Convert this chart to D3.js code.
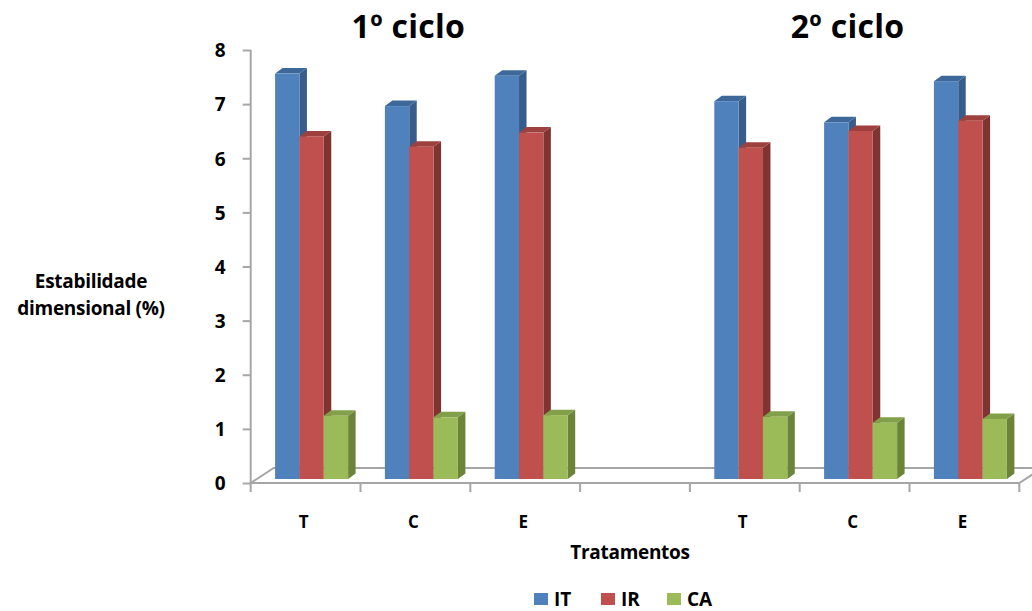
<!DOCTYPE html>
<html>
<head>
<meta charset="utf-8">
<script src="https://cdn.jsdelivr.net/npm/d3@7"></script>
<style>
  html, body { margin: 0; padding: 0; background: #fff; }
  svg { display: block; font-family: "Open Sans", "Liberation Sans", sans-serif; font-weight: 700; }
</style>
</head>
<body>
<svg id="chart" width="1032" height="611"></svg>
<script>
// Treatments inside each cycle, the two cycles, and the three measured series
const categories = ["T", "C", "E"];
const cycles = ["1º ciclo", "2º ciclo"];
const seriesNames = ["IT", "IR", "CA"];

// Values per treatment: 1º ciclo T, C, E then 2º ciclo T, C, E
const valuesIT = [7.49, 6.89, 7.45, 6.98, 6.59, 7.35];
const valuesIR = [6.33, 6.14, 6.40, 6.12, 6.43, 6.62];
const valuesCA = [1.17, 1.14, 1.18, 1.15, 1.04, 1.11];

const yTicks = [0, 1, 2, 3, 4, 5, 6, 7, 8];
const axisTitleLines = ["Estabilidade", "dimensional (%)"];
const xAxisTitle = "Tratamentos";

const seriesValues = [valuesIT, valuesIR, valuesCA];
const faceColors = {
  IT: { front: "#4f81bd", side: "#385d8a", top: "#3e6899" },
  IR: { front: "#c0504d", side: "#7f3432", top: "#9e403d" },
  CA: { front: "#9bbb59", side: "#6b8439", top: "#82a04a" }
};

const svg = d3.select("#chart");
const gridGray = "#a6a6a6";
const font = "'Open Sans', sans-serif";

// Front plane of the plot (value axis and category ticks)
const x0 = 250.7, x1 = 1019.3;
const slotCount = categories.length * cycles.length + 1; // one empty slot between cycles
const xFront = d3.scaleBand().domain(d3.range(slotCount)).range([x0, x1]).padding(0);
const yFront = d3.scaleLinear().domain([0, 8]).range([483, 50]);

// Depth of the floor and of the plane where the columns stand
const floorDx = 23, floorDy = -15;
const barPlaneDx = 6, barPlaneDy = -4;
const barDx = 7.5, barDy = -5.5;

const inner = d3.scaleBand().domain(seriesNames).range([0, xFront.bandwidth()])
  .paddingInner(0).paddingOuter(0.756);

const slotOf = (cycleIdx, catIdx) => cycleIdx * (categories.length + 1) + catIdx;

// Floor outline
const yBase = yFront(0);
const floor = svg.append("g").attr("stroke", gridGray).attr("stroke-width", 2).attr("fill", "none");
floor.append("path").attr("d", d3.line()([
  [x0, yBase], [x0 + floorDx, yBase + floorDy], [1040, yBase + floorDy]
]));
floor.append("path").attr("d", d3.line()([
  [x0, yBase], [x1, yBase], [x1 + floorDx, yBase + floorDy]
]));

// Category tick marks at slot boundaries along the front edge
const boundaries = d3.range(1, slotCount + 1).map(i => i < slotCount ? xFront(i) : x1);
floor.selectAll("line.ctick").data(boundaries).join("line")
  .attr("class", "ctick")
  .attr("x1", d => d).attr("x2", d => d)
  .attr("y1", yBase).attr("y2", yBase + 9);

// Value axis
const yAxis = d3.axisLeft(yFront).tickValues(yTicks).tickSize(8).tickPadding(17).tickSizeOuter(0);
const yAxisG = svg.append("g").attr("transform", `translate(${x0},0)`).call(yAxis);
yAxisG.select(".domain").remove();
yAxisG.selectAll(".tick line").attr("stroke", gridGray).attr("stroke-width", 2);
yAxisG.selectAll(".tick text")
  .attr("fill", "#000").attr("font-size", 19).attr("font-weight", 700)
  .attr("font-family", font).attr("dy", "0.36em");
svg.append("line").attr("x1", x0).attr("x2", x0)
  .attr("y1", yFront(8)).attr("y2", yBase + 9)
  .attr("stroke", gridGray).attr("stroke-width", 2);

// Columns, built from the values
const bars = [];
cycles.forEach((c, ci) => {
  categories.forEach((cat, ki) => {
    seriesNames.forEach((s, si) => {
      bars.push({
        series: s,
        value: seriesValues[si][ci * categories.length + ki],
        slot: slotOf(ci, ki)
      });
    });
  });
});
bars.sort((a, b) => (xFront(a.slot) + inner(a.series)) - (xFront(b.slot) + inner(b.series)));

const barG = svg.append("g");
bars.forEach(d => {
  const left = xFront(d.slot) + barPlaneDx + inner(d.series);
  const right = left + inner.bandwidth();
  const bottom = yFront(0) + barPlaneDy;
  const top = yFront(d.value) + barPlaneDy;
  const col = faceColors[d.series];
  const g = barG.append("g");
  // right side face
  g.append("path").attr("fill", col.side).attr("d", d3.line()([
    [right, bottom], [right + barDx, bottom + barDy], [right + barDx, top + barDy], [right, top]
  ]) + "Z");
  // top face
  g.append("path").attr("fill", col.top).attr("d", d3.line()([
    [left, top], [left + barDx, top + barDy], [right + barDx, top + barDy], [right, top]
  ]) + "Z");
  // front face
  g.append("rect").attr("fill", col.front)
    .attr("x", left).attr("y", top).attr("width", right - left).attr("height", bottom - top);
});

// Category labels
const labelData = [];
cycles.forEach((c, ci) => categories.forEach((cat, ki) => labelData.push({ cat, slot: slotOf(ci, ki) })));
svg.append("g").selectAll("text").data(labelData).join("text")
  .attr("x", d => xFront(d.slot) + xFront.bandwidth() / 2 - 2)
  .attr("y", 528)
  .attr("text-anchor", "middle")
  .attr("font-size", 17)
  .text(d => d.cat);

// Cycle titles above each group
svg.append("g").selectAll("text").data(cycles).join("text")
  .attr("x", (d, ci) => (xFront(slotOf(ci, 0)) + xFront(slotOf(ci, categories.length - 1)) + xFront.bandwidth()) / 2 - 7)
  .attr("y", 38)
  .attr("text-anchor", "middle")
  .attr("font-size", 32)
  .attr("letter-spacing", 0.3)
  .text(d => d);

// Axis titles
svg.append("text").attr("x", 630).attr("y", 559).attr("text-anchor", "middle")
  .attr("font-size", 19).attr("letter-spacing", -0.3).text(xAxisTitle);
svg.append("g").selectAll("text").data(axisTitleLines).join("text")
  .attr("x", 91).attr("y", (d, i) => 288 + i * 27)
  .attr("text-anchor", "middle").attr("font-size", 19).attr("letter-spacing", -0.3).text(d => d);

// Legend
const legendX = [534, 601, 667];
const legend = svg.append("g").selectAll("g").data(seriesNames).join("g")
  .attr("transform", (d, i) => `translate(${legendX[i]},593)`);
legend.append("rect").attr("width", 14).attr("height", 12).attr("fill", d => faceColors[d].front);
legend.append("text").attr("x", 20).attr("y", 12.5).attr("font-size", 19).text(d => d);
</script>
</body>
</html>
